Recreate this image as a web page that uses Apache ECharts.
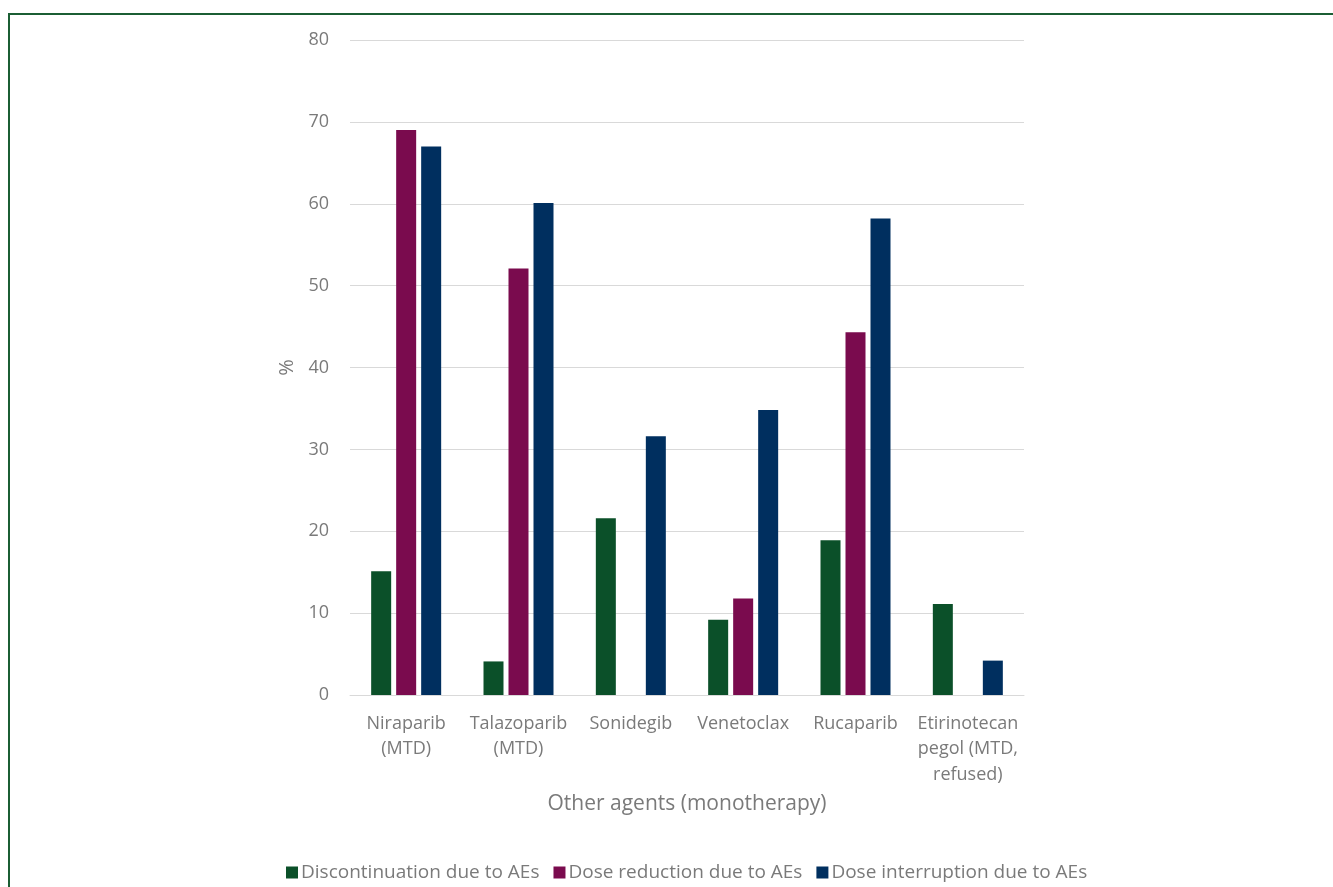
<!DOCTYPE html>
<html>
<head>
<meta charset="utf-8">
<script src="https://cdn.jsdelivr.net/npm/echarts@6/dist/echarts.min.js"></script>
<style>
html,body{margin:0;padding:0;background:#fff;overflow:hidden;}
#frame{position:absolute;left:8px;top:13px;width:2000px;height:2000px;border-top:2px solid #1b5e34;border-left:2px solid #1b5e34;box-sizing:border-box;}
#chart{position:absolute;left:0;top:0;width:1333px;height:887px;}
</style>
</head>
<body>
<div id="frame"></div>
<div id="chart"></div>
<script>
const categories = ["Niraparib\n(MTD)", "Talazoparib\n(MTD)", "Sonidegib", "Venetoclax", "Rucaparib", "Etirinotecan\npegol (MTD,\nrefused)"];
const discontinuation = [15.1, 4.1, 21.6, 9.2, 18.9, 11.1];
const doseReduction = [69.0, 52.1, null, 11.8, 44.3, null];
const doseInterruption = [67.0, 60.1, 31.6, 34.8, 58.2, 4.2];
const seriesNames = ["Discontinuation due to AEs", "Dose reduction due to AEs", "Dose interruption due to AEs"];
const yTicks = {min: 0, max: 80, interval: 10};

const font = "'Open Sans', 'Noto Sans', sans-serif";
const textColor = "#7a7a7a";
const chart = echarts.init(document.getElementById('chart'), null, {renderer: 'canvas'});
const mk = (name, data, color) => ({
  name, type: 'bar', data, barWidth: 20, barGap: '25%',
  itemStyle: {color}
});
chart.setOption({
  animation: false,
  textStyle: {fontFamily: font},
  grid: {left: 350, right: 309, top: 40, bottom: 192, containLabel: false},
  legend: {
    top: 858, left: 281,
    itemWidth: 12, itemHeight: 12, itemGap: 14,
    icon: 'rect',
    textStyle: {fontFamily: font, fontSize: 19, color: textColor, padding: [0,0,0,-2]},
    data: seriesNames
  },
  xAxis: {
    type: 'category', data: categories,
    name: 'Other agents (monotherapy)', nameLocation: 'middle', nameGap: 99,
    nameTextStyle: {fontFamily: font, fontSize: 21, color: textColor},
    axisLine: {lineStyle: {color: '#d9d9d9', width: 1}},
    axisTick: {show: false},
    axisLabel: {fontFamily: font, fontSize: 18, color: textColor, lineHeight: 25.5, margin: 16, interval: 0}
  },
  yAxis: {
    type: 'value', min: yTicks.min, max: yTicks.max, interval: yTicks.interval,
    name: '%', nameLocation: 'middle', nameGap: 53, nameRotate: 90,
    nameTextStyle: {fontFamily: font, fontSize: 20, color: textColor},
    axisLine: {show: false}, axisTick: {show: false},
    axisLabel: {fontFamily: font, fontSize: 18, color: textColor, margin: 21},
    splitLine: {lineStyle: {color: '#d9d9d9', width: 1}}
  },
  series: [
    mk(seriesNames[0], discontinuation, '#0b5029'),
    mk(seriesNames[1], doseReduction, '#7a0b4e'),
    mk(seriesNames[2], doseInterruption, '#002f5f')
  ]
});
</script>
</body>
</html>
